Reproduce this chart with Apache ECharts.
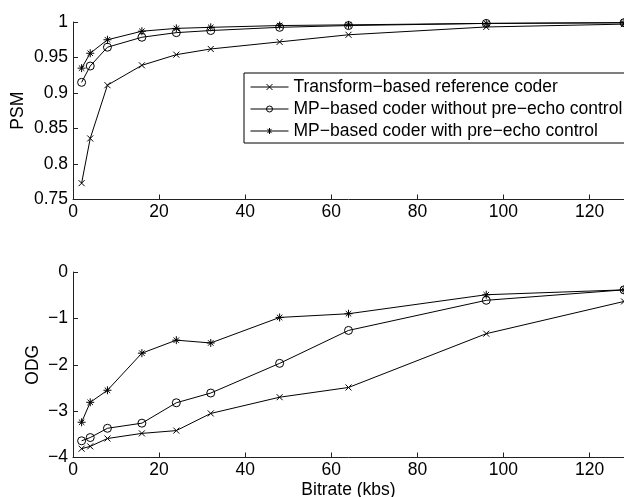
<!DOCTYPE html>
<html>
<head>
<meta charset="utf-8">
<script src="https://cdn.jsdelivr.net/npm/echarts@6/dist/echarts.min.js"></script>
<style>
html,body{margin:0;padding:0;background:#fff;}
#c{width:624px;height:497px;}
</style>
</head>
<body>
<div id="c"></div>
<script>
var bitrates = [2, 4, 8, 16, 24, 32, 48, 64, 96, 128];
var seriesNames = [
  'Transform\u2212based reference coder',
  'MP\u2212based coder without pre\u2212echo control',
  'MP\u2212based coder with pre\u2212echo control'
];
var psmTransform = [0.773, 0.836, 0.911, 0.939, 0.954, 0.962, 0.972, 0.982, 0.993, 0.997];
var psmNoPreEcho = [0.915, 0.938, 0.9645, 0.9785, 0.985, 0.988, 0.9925, 0.995, 0.998, 0.999];
var psmPreEcho   = [0.935, 0.956, 0.975, 0.987, 0.991, 0.9925, 0.995, 0.996, 0.998, 0.999];
var odgTransform = [-3.81, -3.76, -3.59, -3.48, -3.42, -3.05, -2.70, -2.49, -1.33, -0.635];
var odgNoPreEcho = [-3.64, -3.57, -3.37, -3.26, -2.82, -2.61, -1.97, -1.26, -0.61, -0.385];
var odgPreEcho   = [-3.24, -2.81, -2.55, -1.75, -1.47, -1.53, -0.98, -0.90, -0.49, -0.385];

var xMarker = 'path://M0,0L10,10M10,0L0,10';
var starMarker = 'path://M5,0L5,10M0,5L10,5M1.6,1.6L8.4,8.4M8.4,1.6L1.6,8.4';
var markers = [xMarker, 'circle', starMarker];
var markerSizes = [6, 8, 8];

var legendIcons = [
  'path://M0,3L38,3M16,0L22,6M22,0L16,6',
  'path://M0,3L38,3M22,3A3,3,0,1,1,16,3A3,3,0,1,1,22,3',
  'path://M0,3L38,3M19,0L19,6M16.9,0.9L21.1,5.1M21.1,0.9L16.9,5.1'
];

function pairs(ys) { return bitrates.map(function (x, i) { return [x, ys[i]]; }); }

var FONT = 'Liberation Sans, Arial, sans-serif';
var FS = 17.5;
var AX = '#222';

function mkSeries(idx, ys, gi) {
  return {
    type: 'line', name: seriesNames[idx], xAxisIndex: gi, yAxisIndex: gi,
    data: pairs(ys), symbol: markers[idx], symbolSize: markerSizes[idx],
    showSymbol: true, animation: false, silent: true,
    lineStyle: { color: '#000', width: 1 },
    itemStyle: { color: 'rgba(0,0,0,0)', borderColor: '#000', borderWidth: 1 },
    emphasis: { disabled: true }
  };
}

function xAxisCfg(gi, withName) {
  var a = {
    type: 'value', gridIndex: gi, min: 0, max: 128, interval: 20,
    axisLine: { show: true, onZero: false, lineStyle: { color: AX, width: 1 } },
    axisTick: { show: true, inside: true, length: 5, lineStyle: { color: AX } },
    axisLabel: { color: '#000', fontSize: FS, fontFamily: FONT, margin: 4, showMaxLabel: false },
    splitLine: { show: false }
  };
  if (withName) {
    a.name = 'Bitrate (kbs)';
    a.nameLocation = 'middle';
    a.nameGap = 24;
    a.nameMoveOverlap = false;
    a.nameTextStyle = { color: '#000', fontSize: FS, fontFamily: FONT };
  }
  return a;
}

function yAxisCfg(gi, min, max, interval, name, gap) {
  return {
    type: 'value', gridIndex: gi, min: min, max: max, interval: interval,
    name: name, nameLocation: 'middle', nameGap: gap, nameMoveOverlap: false,
    nameTextStyle: { color: '#000', fontSize: FS, fontFamily: FONT },
    axisLine: { show: true, onZero: false, lineStyle: { color: AX, width: 1 } },
    axisTick: { show: true, inside: true, length: 5, lineStyle: { color: AX } },
    axisLabel: {
      color: '#000', fontSize: FS, fontFamily: FONT, margin: 5,
      formatter: function (v) { return String(parseFloat(v.toFixed(4))).replace('-', '\u2212'); }
    },
    splitLine: { show: false }
  };
}

var chart = echarts.init(document.getElementById('c'), null, { renderer: 'canvas' });
chart.setOption({
  animation: false,
  backgroundColor: '#fff',
  grid: [
    { left: 73, top: 22, width: 551, height: 177.5, outerBoundsMode: 'none', containLabel: false },
    { left: 73, top: 272, width: 551, height: 185.5, outerBoundsMode: 'none', containLabel: false }
  ],
  xAxis: [xAxisCfg(0, false), xAxisCfg(1, true)],
  yAxis: [
    yAxisCfg(0, 0.75, 1, 0.05, 'PSM', 46),
    yAxisCfg(1, -4, 0, 1, 'ODG', 31)
  ],
  legend: {
    orient: 'vertical', left: 244, top: 73,
    data: seriesNames.map(function (n, i) {
      return {
        name: n, icon: legendIcons[i],
        itemStyle: { color: 'rgba(0,0,0,0)', borderColor: '#000', borderWidth: 1 }
      };
    }),
    backgroundColor: '#fff', borderColor: '#000', borderWidth: 1,
    padding: [5, 60, 3, 6],
    itemWidth: 38, itemHeight: 6, itemGap: 4,
    selectedMode: false,
    textStyle: { color: '#000', fontSize: FS, fontFamily: FONT, lineHeight: 17 }
  },
  series: [
    mkSeries(0, psmTransform, 0),
    mkSeries(1, psmNoPreEcho, 0),
    mkSeries(2, psmPreEcho, 0),
    mkSeries(0, odgTransform, 1),
    mkSeries(1, odgNoPreEcho, 1),
    mkSeries(2, odgPreEcho, 1)
  ]
});
</script>
</body>
</html>
